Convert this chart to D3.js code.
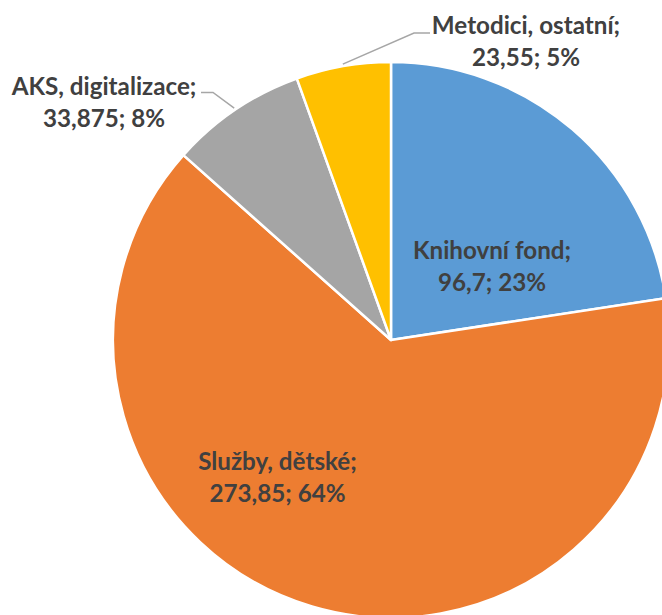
<!DOCTYPE html>
<html>
<head>
<meta charset="utf-8">
<script src="https://cdn.jsdelivr.net/npm/d3@7"></script>
<style>
  html, body { margin: 0; padding: 0; background: #fff; }
  svg { display: block; }
  text { font-family: Lato, "Noto Sans", sans-serif; font-weight: 700; fill: #404040; }
</style>
</head>
<body>
<svg id="chart" width="662" height="615"></svg>
<script>
// ---- data ----
const categories = ["Knihovní fond", "Služby, dětské", "AKS, digitalizace", "Metodici, ostatní"];
const values = [96.7, 273.85, 33.875, 23.55];
const percents = [23, 64, 8, 5];
const colors = ["#5B9BD5", "#ED7D31", "#A5A5A5", "#FFC000"];

// ---- layout ----
const W = 662, H = 615;
const cx = 391, cy = 340, R = 278;
const fontSize = 24.2, lineGap = 32;
// label block anchors (center x, first baseline y), and whether a leader is drawn
const labelPos = [
  { x: 492, y: 258.5, leader: null },
  { x: 277.5, y: 470, leader: null },
  { x: 104, y: 94.5, leader: { elbowX: 213, endX: 201, y: 92.5 } },
  { x: 526, y: 34, leader: { elbowX: 414, endX: 430, y: 33 } }
];

const fmt = d3.formatLocale({ decimal: ",", thousands: " ", grouping: [3], currency: ["", ""] });
const numStr = v => fmt.format(",")(v);

const svg = d3.select("#chart");
const g = svg.append("g").attr("transform", `translate(${cx},${cy})`);

const pie = d3.pie().sort(null).value(d => d.value);
const data = categories.map((c, i) => ({ name: c, value: values[i], pct: percents[i], color: colors[i], pos: labelPos[i] }));
const arcs = pie(data);
const arc = d3.arc().innerRadius(0).outerRadius(R);

g.selectAll("path.slice")
  .data(arcs)
  .join("path")
  .attr("class", "slice")
  .attr("d", arc)
  .attr("fill", d => d.data.color)
  .attr("stroke", "#fff")
  .attr("stroke-width", 2.5)
  .attr("stroke-linejoin", "round");

// leader lines
arcs.forEach(a => {
  const L = a.data.pos.leader;
  if (!L) return;
  const mid = (a.startAngle + a.endAngle) / 2;
  const p0 = [cx + (R + 2) * Math.sin(mid), cy - (R + 2) * Math.cos(mid)];
  svg.append("polyline")
    .attr("points", [p0, [L.elbowX, L.y], [L.endX, L.y]].map(p => p.join(",")).join(" "))
    .attr("fill", "none")
    .attr("stroke", "#A6A6A6")
    .attr("stroke-width", 1.5);
});

// labels
arcs.forEach(a => {
  const d = a.data;
  const t = svg.append("text")
    .attr("text-anchor", "middle")
    .attr("font-size", fontSize);
  t.append("tspan").attr("x", d.pos.x).attr("y", d.pos.y).text(d.name + ";");
  t.append("tspan").attr("x", d.pos.x).attr("y", d.pos.y + lineGap).text(numStr(d.value) + "; " + d.pct + "%");
});
</script>
</body>
</html>
